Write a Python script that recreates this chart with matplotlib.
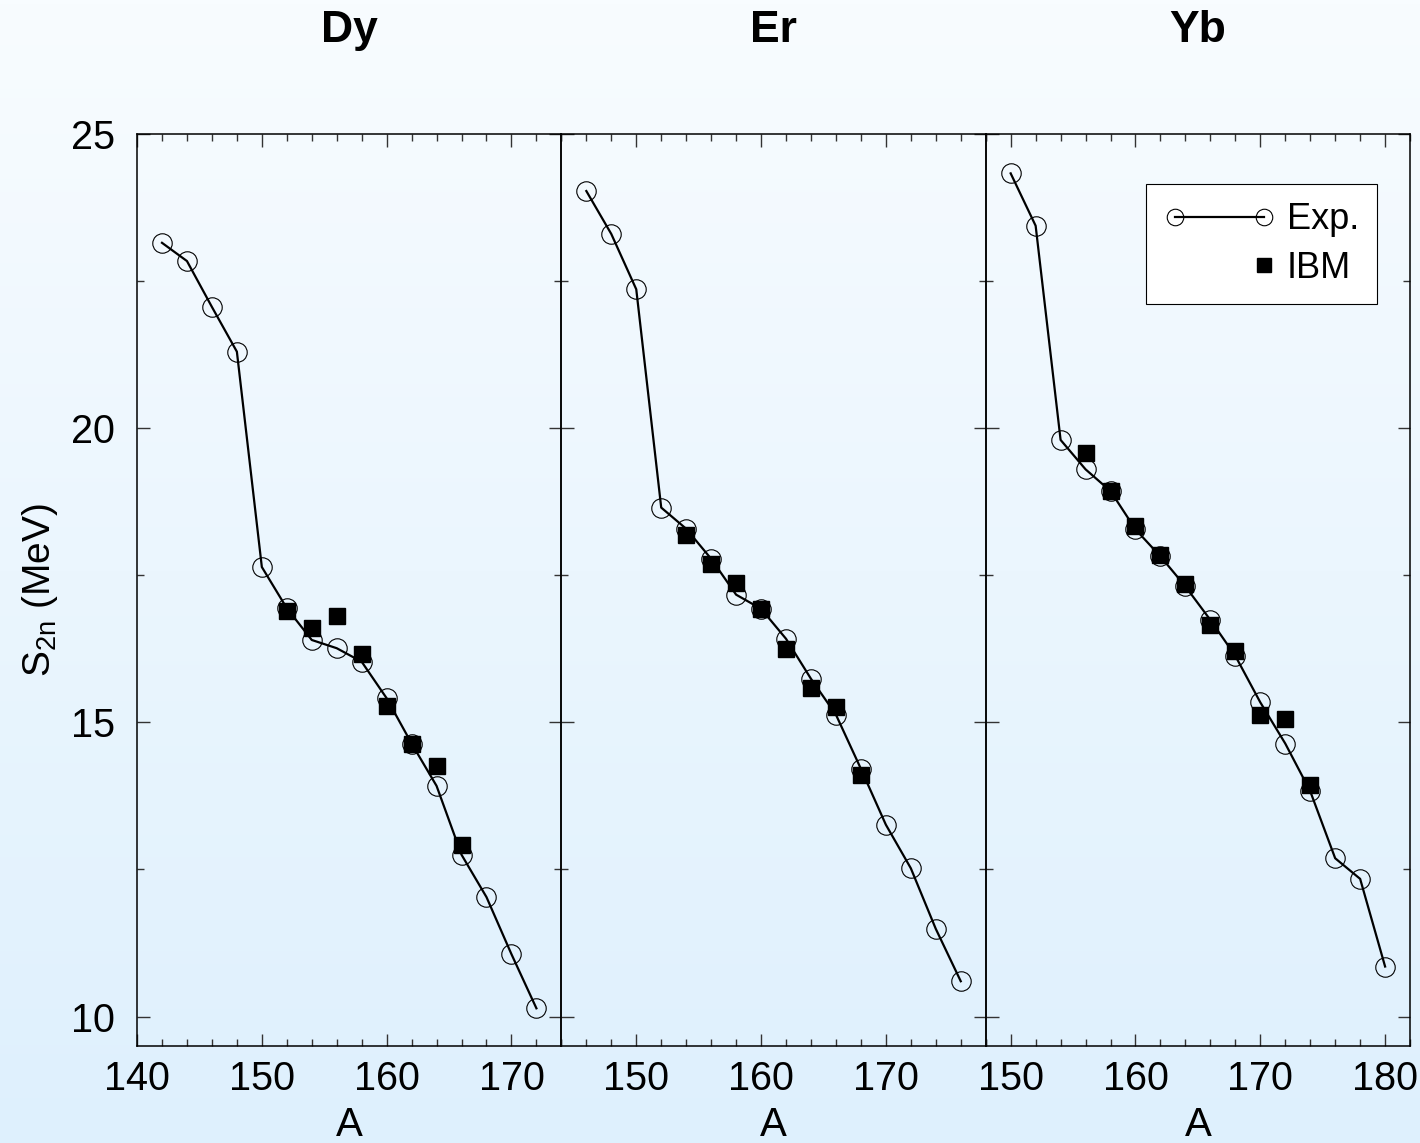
import numpy as np
import matplotlib
matplotlib.use("Agg")
import matplotlib.pyplot as plt
from matplotlib.legend_handler import HandlerLine2D
from matplotlib.ticker import MultipleLocator

plt.rcParams['font.family'] = ['Liberation Sans', 'DejaVu Sans']

# --- data ---
dy_exp_a = [142, 144, 146, 148, 150, 152, 154, 156, 158, 160, 162, 164, 166, 168, 170, 172]
dy_exp_s = [23.15, 22.84, 22.06, 21.30, 17.64, 16.94, 16.40, 16.26, 16.03, 15.41, 14.64, 13.92, 12.75, 12.03, 11.06, 10.14]
dy_ibm_a = [152, 154, 156, 158, 160, 162, 164, 166]
dy_ibm_s = [16.89, 16.60, 16.81, 16.16, 15.27, 14.64, 14.26, 12.91]

er_exp_a = [146, 148, 150, 152, 154, 156, 158, 160, 162, 164, 166, 168, 170, 172, 174, 176]
er_exp_s = [24.03, 23.30, 22.36, 18.65, 18.29, 17.78, 17.17, 16.93, 16.42, 15.74, 15.13, 14.21, 13.26, 12.52, 11.49, 10.60]
er_ibm_a = [154, 156, 158, 160, 162, 164, 166, 168]
er_ibm_s = [18.18, 17.69, 17.37, 16.93, 16.25, 15.58, 15.26, 14.10]

yb_exp_a = [150, 152, 154, 156, 158, 160, 162, 164, 166, 168, 170, 172, 174, 176, 178, 180]
yb_exp_s = [24.33, 23.44, 19.80, 19.30, 18.93, 18.28, 17.82, 17.31, 16.74, 16.13, 15.34, 14.64, 13.83, 12.69, 12.34, 10.85]
yb_ibm_a = [156, 158, 160, 162, 164, 166, 168, 170, 172, 174]
yb_ibm_s = [19.57, 18.93, 18.34, 17.85, 17.35, 16.66, 16.22, 15.13, 15.05, 13.94]

titles = ["Dy", "Er", "Yb"]
xlims = [(140, 174), (144, 178), (148, 182)]
panels = [
    (dy_exp_a, dy_exp_s, dy_ibm_a, dy_ibm_s),
    (er_exp_a, er_exp_s, er_ibm_a, er_ibm_s),
    (yb_exp_a, yb_exp_s, yb_ibm_a, yb_ibm_s),
]


class RightMarker(HandlerLine2D):
    # single marker lined up with the right marker of a 2-point handle
    def get_xdata(self, legend, xdescent, ydescent, width, height, fontsize):
        x = np.array([-xdescent + width - self._marker_pad * fontsize])
        return x, x


fig = plt.figure(figsize=(14.2, 11.43), dpi=100)

# gradient background
bg = fig.add_axes([0, 0, 1, 1], zorder=-10)
top = np.array([248, 252, 255]) / 255.0
bot = np.array([222, 240, 253]) / 255.0
t = np.linspace(0, 1, 256)[:, None]
grad = (top[None, :] * (1 - t) + bot[None, :] * t)[:, None, :]
bg.imshow(grad, aspect='auto', extent=[0, 1, 0, 1])
bg.axis('off')

axes = fig.subplots(1, 3, sharey=True)
fig.subplots_adjust(left=0.0965, right=0.993, top=0.8828, bottom=0.0849, wspace=0)

for i, ax in enumerate(axes):
    ea, es, ia, is_ = panels[i]
    ax.set_facecolor('none')
    ax.plot(ea, es, color='black', lw=1.6, marker='o', ms=14, mfc='none',
            mec='black', mew=0.8, label='Exp.')
    ax.plot(ia, is_, ls='none', marker='s', ms=11.5, color='black', label='IBM')
    ax.set_xlim(*xlims[i])
    ax.set_ylim(9.5, 25)
    ax.xaxis.set_major_locator(MultipleLocator(10))
    ax.xaxis.set_minor_locator(MultipleLocator(2))
    ax.yaxis.set_major_locator(MultipleLocator(5))
    ax.yaxis.set_minor_locator(MultipleLocator(2.5))
    ax.tick_params(which='both', direction='in', top=True, right=True,
                   labelsize=28.5, color='#333333')
    ax.tick_params(which='major', length=9, width=1)
    ax.tick_params(which='minor', length=5, width=1)
    ax.tick_params(axis='x', which='major', pad=10)
    ax.tick_params(axis='y', which='major', pad=16)
    for sp in ax.spines.values():
        sp.set_linewidth(1.1)
    ax.set_xlabel("A", fontsize=29, labelpad=6)
    ax.text(0.5, 1.113, titles[i], transform=ax.transAxes, ha='center',
            va='center', fontsize=32, fontweight='bold')
    if i > 0:
        ax.tick_params(labelleft=False)

axes[0].set_ylabel(r"S$_\mathregular{2n}$ (MeV)", fontsize=28, labelpad=8)

leg = axes[2].legend(loc='upper right', bbox_to_anchor=(0.923, 0.945),
                     handler_map={axes[2].lines[1]: RightMarker(numpoints=2)},
                     numpoints=2, handlelength=3.05, fontsize=26, frameon=True,
                     fancybox=False, edgecolor='black', framealpha=1,
                     borderpad=0.5, handletextpad=0.35, labelspacing=0.38,
                     borderaxespad=0, markerscale=0.85)
leg.get_frame().set_linewidth(0.8)

fig.savefig("out.png", dpi=100)
